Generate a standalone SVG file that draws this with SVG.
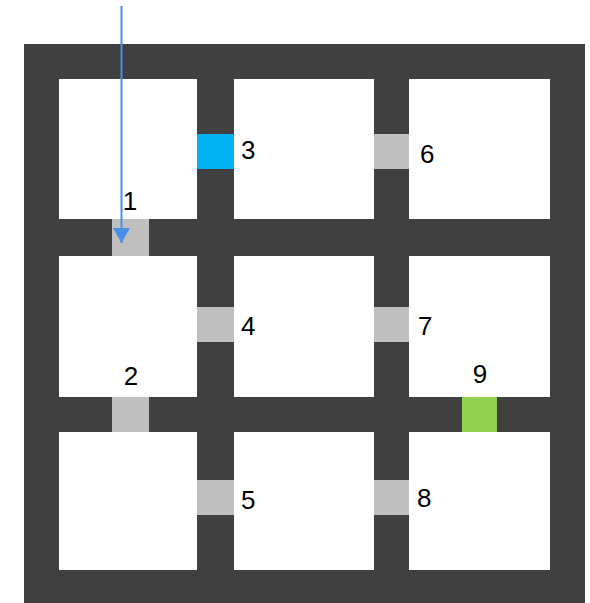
<svg xmlns="http://www.w3.org/2000/svg" width="590" height="603" viewBox="0 0 590 603">
<defs>
<style>
.room{fill:#ffffff}
.door{fill:#bfbfbf}
.lbl{font-family:"Liberation Sans",Arial,sans-serif;font-size:26px;fill:#000}
.c{text-anchor:middle}
</style>
<marker id="ah" markerWidth="15" markerHeight="17" refX="15" refY="8.5" orient="auto" markerUnits="userSpaceOnUse" viewBox="0 0 15 17">
<path d="M0,0 L15,8.5 L0,17 z" fill="#4a8fe8"/>
</marker>
</defs>
<rect x="24" y="44" width="561" height="559" fill="#404040"/>
<g id="rooms">
<rect class="room" x="59" y="79" width="138" height="140"/>
<rect class="room" x="234" y="79" width="140" height="140"/>
<rect class="room" x="409" y="79" width="141" height="140"/>
<rect class="room" x="59" y="256" width="138" height="141"/>
<rect class="room" x="234" y="256" width="140" height="141"/>
<rect class="room" x="409" y="256" width="141" height="141"/>
<rect class="room" x="59" y="432" width="138" height="138"/>
<rect class="room" x="234" y="432" width="140" height="138"/>
<rect class="room" x="409" y="432" width="141" height="138"/>
</g>
<g id="door1"><rect class="door" x="112" y="219" width="37" height="37"/><text class="lbl c" x="130" y="210">1</text></g>
<g id="door2"><rect class="door" x="112" y="397" width="37" height="35"/><text class="lbl c" x="131" y="385">2</text></g>
<g id="door3"><rect x="197" y="134" width="37" height="35" fill="#00b0f0"/><text class="lbl" x="241" y="159">3</text></g>
<g id="door4"><rect class="door" x="197" y="307" width="37" height="35"/><text class="lbl" x="241" y="335">4</text></g>
<g id="door5"><rect class="door" x="197" y="480" width="37" height="35"/><text class="lbl" x="241" y="509">5</text></g>
<g id="door6"><rect class="door" x="374" y="134" width="35" height="35"/><text class="lbl" x="420" y="163">6</text></g>
<g id="door7"><rect class="door" x="374" y="307" width="35" height="35"/><text class="lbl" x="418" y="335">7</text></g>
<g id="door8"><rect class="door" x="374" y="480" width="35" height="35"/><text class="lbl" x="417" y="507">8</text></g>
<g id="door9"><rect x="462" y="397" width="35" height="35" fill="#92d050"/><text class="lbl c" x="480" y="383">9</text></g>
<g id="connectors">
<line x1="121.5" y1="6" x2="121.5" y2="243" stroke="#4a8fe8" stroke-width="2" marker-end="url(#ah)"/>
</g>
</svg>
